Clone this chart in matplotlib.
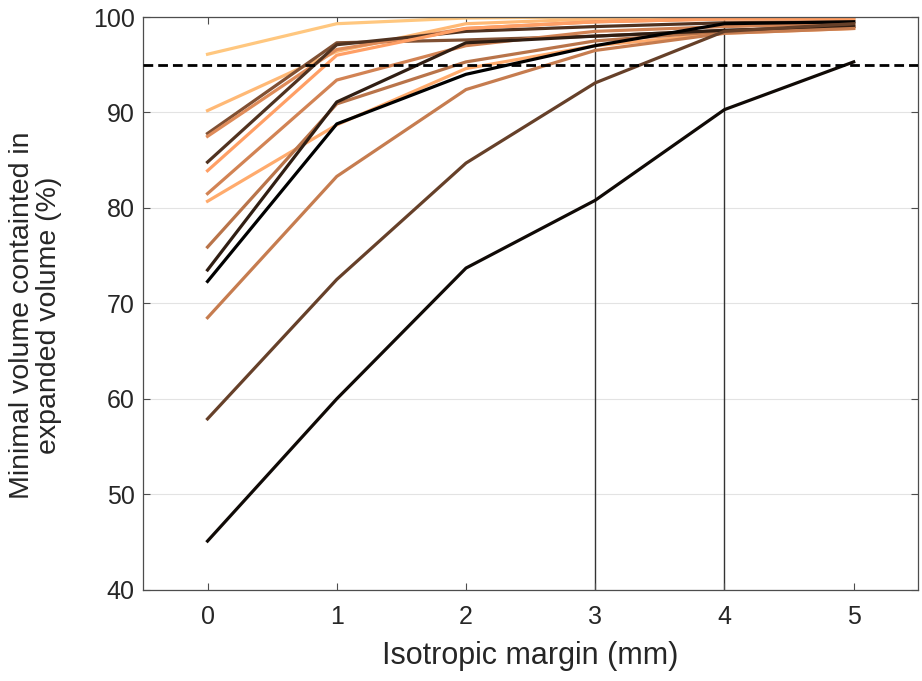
import numpy as np
import matplotlib
matplotlib.use('Agg')
import matplotlib.pyplot as plt

plt.rcParams['font.family'] = ['Liberation Sans', 'DejaVu Sans']

# margins (mm)
margins = [0, 1, 2, 3, 4, 5]

# minimal volume contained in expanded volume (%), one list per case
curves = [
    [96.1, 99.3, 99.9, 100.0, 100.0, 100.0],
    [90.2, 96.4, 99.3, 99.8, 100.0, 100.0],
    [87.8, 97.3, 97.6, 98.0, 98.6, 99.0],
    [87.5, 96.6, 98.8, 99.5, 99.8, 99.8],
    [84.8, 97.1, 98.5, 99.0, 99.4, 99.5],
    [83.9, 96.0, 98.8, 99.5, 99.8, 99.8],
    [81.5, 93.4, 97.0, 98.5, 99.0, 99.3],
    [80.7, 88.7, 94.6, 97.0, 98.3, 98.8],
    [75.9, 90.9, 95.3, 97.5, 98.5, 99.0],
    [73.5, 91.1, 97.3, 98.0, 98.6, 99.0],
    [72.3, 88.8, 94.0, 97.0, 99.3, 99.5],
    [68.5, 83.3, 92.4, 96.5, 98.3, 98.8],
    [57.9, 72.5, 84.7, 93.1, 98.5, 99.3],
    [45.1, 60.0, 73.7, 80.8, 90.3, 95.3],
]
# position in the copper colormap for each case
shades = [1.0, 0.93, 0.40, 0.70, 0.25, 0.80, 0.66, 0.86, 0.58, 0.15, 0.0, 0.62, 0.32, 0.05]

threshold = 95


def copper(t):
    return (min(1.0, 1.25 * t), 0.7812 * t, 0.4975 * t)


fig = plt.figure(figsize=(9.22, 6.81), dpi=100)
ax = fig.add_axes([0.155, 0.134, 0.841, 0.841])

for y in range(40, 101, 10):
    ax.axhline(y, color='#e3e3e3', lw=0.8, zorder=0)

ax.axvline(3, color='#333333', lw=1.0, zorder=1)
ax.axvline(4, color='#333333', lw=1.0, zorder=1)

for vals, t in zip(curves, shades):
    ax.plot(margins, vals, color=copper(t), lw=2.3, zorder=2)

ax.axhline(threshold, color='black', lw=2.0, ls=(0, (3.5, 1.8)), zorder=3)

ax.set_xlim(-0.5, 5.5)
ax.set_ylim(40, 100)
ax.set_xticks(margins)
ax.set_yticks(range(40, 101, 10))
ax.tick_params(direction='in', top=True, right=True, length=5, width=0.8,
               colors='#4d4d4d', labelcolor='#262626', labelsize=18)
ax.tick_params(axis='x', pad=11)
ax.tick_params(axis='y', pad=6)
for s in ax.spines.values():
    s.set_color('#4d4d4d')
    s.set_linewidth(0.9)

ax.set_xlabel('Isotropic margin (mm)', fontsize=22, color='#262626')
ax.set_ylabel('Minimal volume containted in\nexpanded volume (%)', fontsize=20.5,
              color='#262626', linespacing=1.05)
ax.xaxis.set_label_coords(0.5, -0.089)
ax.yaxis.set_label_coords(-0.104, 0.48)

fig.savefig('out.png', dpi=100)
